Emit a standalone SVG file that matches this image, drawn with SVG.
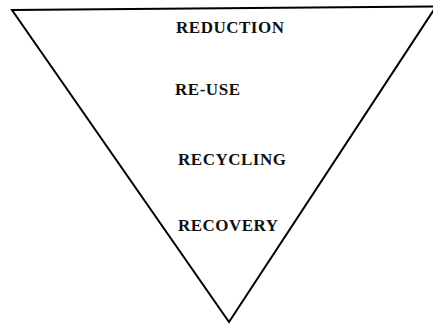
<svg xmlns="http://www.w3.org/2000/svg" width="433" height="324" viewBox="0 0 433 324">
<style>
.edge{fill:none;stroke:#000;stroke-width:2;stroke-linejoin:miter}
.lbl{font-family:"Liberation Serif","Times New Roman",serif;font-weight:bold;font-size:17px;fill:#111}
</style>
<rect width="433" height="324" fill="#fff"/>
<g id="connectors">
<polyline class="edge" points="436,6.5 12,10 229,322 436,6.5"/>
</g>
<g id="reduction"><text class="lbl" x="176" y="33" textLength="108" lengthAdjust="spacing">REDUCTION</text></g>
<g id="reuse"><text class="lbl" x="175" y="94.5" textLength="65" lengthAdjust="spacing">RE-USE</text></g>
<g id="recycling"><text class="lbl" x="178" y="165" textLength="108" lengthAdjust="spacing">RECYCLING</text></g>
<g id="recovery"><text class="lbl" x="178" y="230.5" textLength="100" lengthAdjust="spacing">RECOVERY</text></g>
</svg>
